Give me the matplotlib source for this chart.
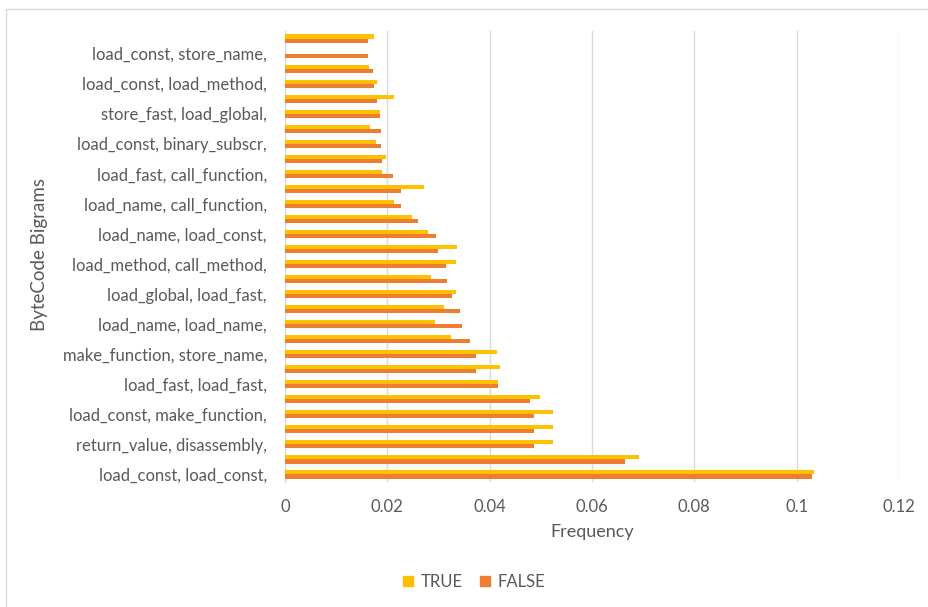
import matplotlib.pyplot as plt
from matplotlib.lines import Line2D
from matplotlib.patches import Patch
import numpy as np

plt.rcParams['font.family'] = ['Lato', 'DejaVu Sans']

# 30 bigrams, bottom to top; only every other one is labelled in the source chart
labels = [
    'load_const, load_const,', '',
    'return_value, disassembly,', '',
    'load_const, make_function,', '',
    'load_fast, load_fast,', '',
    'make_function, store_name,', '',
    'load_name, load_name,', '',
    'load_global, load_fast,', '',
    'load_method, call_method,', '',
    'load_name, load_const,', '',
    'load_name, call_function,', '',
    'load_fast, call_function,', '',
    'load_const, binary_subscr,', '',
    'store_fast, load_global,', '',
    'load_const, load_method,', '',
    'load_const, store_name,', '',
]

true_vals = [0.1033, 0.0691, 0.0524, 0.0524, 0.0524, 0.0499, 0.0417, 0.0420,
             0.0415, 0.0324, 0.0294, 0.0311, 0.0335, 0.0285, 0.0334, 0.0337,
             0.0279, 0.0248, 0.0213, 0.0271, 0.0189, 0.0198, 0.0178, 0.0167,
             0.0185, 0.0214, 0.0179, 0.0165, 0.0, 0.0174]
false_vals = [0.1029, 0.0665, 0.0487, 0.0487, 0.0487, 0.0479, 0.0417, 0.0374,
              0.0374, 0.0362, 0.0346, 0.0342, 0.0327, 0.0317, 0.0314, 0.0299,
              0.0296, 0.0260, 0.0227, 0.0227, 0.0212, 0.0189, 0.0188, 0.0187,
              0.0186, 0.0180, 0.0173, 0.0172, 0.0163, 0.0162]

c_true = '#FFC000'
c_false = '#ED7D31'
txt = '#595959'

fig = plt.figure(figsize=(9.29, 6.07), dpi=100)
ax = fig.add_axes([285 / 929, 1 - 482 / 607, (899 - 285) / 929, (482 - 31) / 607])

y = np.arange(len(labels))
h = 0.27
ax.barh(y + h / 2, true_vals, height=h, color=c_true, label='TRUE', zorder=3)
ax.barh(y - h / 2, false_vals, height=h, color=c_false, label='FALSE', zorder=3)

ax.set_xlim(0, 0.12)
ax.set_ylim(-0.5, len(labels) - 0.5)
ax.set_xticks([0, 0.02, 0.04, 0.06, 0.08, 0.1, 0.12])
ax.set_xticklabels(['0', '0.02', '0.04', '0.06', '0.08', '0.1', '0.12'])
ax.set_yticks(y)
ax.set_yticklabels(labels)
ax.tick_params(axis='both', length=0, labelsize=12, colors=txt)
ax.tick_params(axis='x', pad=12)
ax.tick_params(axis='y', pad=13)
ax.grid(axis='x', color='#D9D9D9', linewidth=1, zorder=0)
for s in ['top', 'right', 'bottom']:
    ax.spines[s].set_visible(False)
ax.spines['left'].set_color('#D9D9D9')

ax.set_xlabel('Frequency', fontsize=13, color=txt, labelpad=7)
fig.text(40 / 929, 1 - 255 / 607, 'ByteCode Bigrams', rotation=90, fontsize=13.5,
         color=txt, ha='center', va='center')

handles = [Patch(color=c_true), Patch(color=c_false)]
fig.legend(handles, ['TRUE', 'FALSE'], loc='center', bbox_to_anchor=(474 / 929, 1 - 582 / 607),
           ncol=2, frameon=False, fontsize=12, labelcolor=txt, handlelength=0.6,
           handleheight=0.6, handletextpad=0.45, columnspacing=1.0)

# chart-area border (only top and left edges visible)
fig.add_artist(Line2D([6.5 / 929, 1], [1 - 9 / 607, 1 - 9 / 607], color='#D9D9D9', lw=1))
fig.add_artist(Line2D([6.5 / 929, 6.5 / 929], [0, 1 - 9 / 607], color='#D9D9D9', lw=1))

fig.savefig('out.png', dpi=100)
